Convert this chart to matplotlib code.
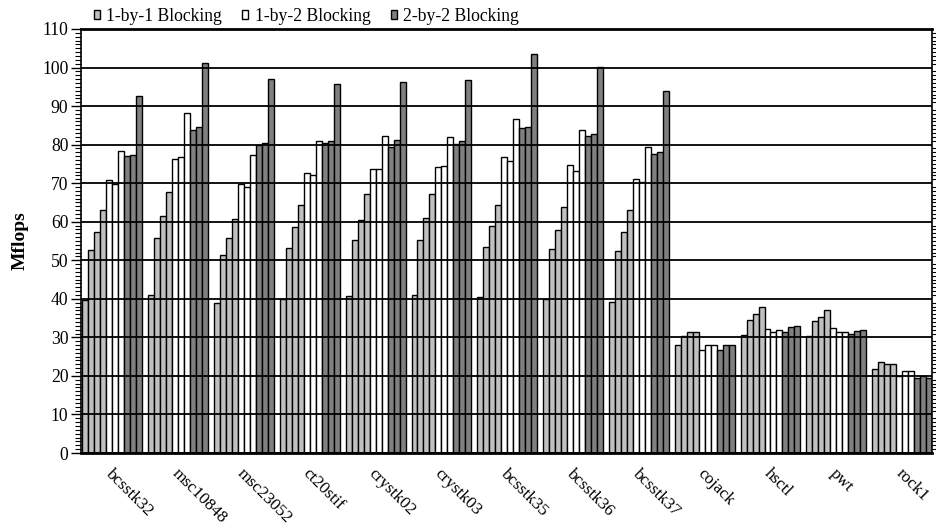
import matplotlib
matplotlib.use('Agg')
import matplotlib.pyplot as plt
from matplotlib.patches import Patch
from matplotlib.ticker import MultipleLocator

plt.rcParams['font.family'] = ['Liberation Serif', 'DejaVu Serif']

matrices = ['bcsstk32', 'msc10848', 'msc23052', 'ct20stif', 'crystk02', 'crystk03',
            'bcsstk35', 'bcsstk36', 'bcsstk37', 'cojack', 'hsctl', 'pwt', 'rock1']

# four light bars per matrix
blk_1x1 = [
    [39.6, 52.7, 57.4, 63.0],
    [40.9, 55.9, 61.5, 67.8],
    [38.8, 51.3, 55.9, 60.6],
    [40.0, 53.3, 58.7, 64.3],
    [40.7, 55.3, 60.5, 67.2],
    [41.0, 55.3, 61.0, 67.2],
    [40.4, 53.5, 58.9, 64.3],
    [39.9, 53.0, 57.8, 63.7],
    [39.3, 52.3, 57.4, 63.0],
    [28.0, 30.3, 31.5, 31.5],
    [30.6, 34.6, 36.0, 37.8],
    [30.3, 34.2, 35.3, 37.0],
    [21.8, 23.7, 23.0, 23.0],
]
blk_1x2 = [
    [70.7, 69.8, 78.3],
    [76.2, 76.7, 88.3],
    [69.9, 68.9, 77.2],
    [72.6, 72.1, 80.9],
    [73.8, 73.8, 82.2],
    [74.3, 74.5, 82.1],
    [76.8, 75.7, 86.7],
    [74.8, 73.2, 83.7],
    [71.2, 70.2, 79.4],
    [26.7, 27.9, 27.9],
    [32.3, 31.3, 32.0],
    [32.5, 31.5, 31.5],
    [19.9, 21.3, 21.3],
]
blk_2x2 = [
    [77.0, 77.4, 92.6],
    [83.7, 84.7, 101.1],
    [79.9, 80.5, 96.9],
    [80.3, 80.9, 95.6],
    [79.4, 81.3, 96.2],
    [80.1, 81.0, 96.8],
    [84.4, 84.7, 103.4],
    [82.2, 82.7, 100.2],
    [77.6, 78.2, 94.0],
    [26.7, 27.9, 27.9],
    [31.3, 32.7, 33.0],
    [31.0, 31.6, 31.9],
    [19.5, 20.1, 19.5],
]

series = [
    ('1-by-1 Blocking', blk_1x1, '#c0c0c0'),
    ('1-by-2 Blocking', blk_1x2, '#ffffff'),
    ('2-by-2 Blocking', blk_2x2, '#808080'),
]

fig = plt.figure(figsize=(9.37, 5.27), dpi=100)
ax = fig.add_axes([0.0864, 0.1404, 0.9083, 0.8046])

slot = 11  # 10 bars + gap per matrix
for g in range(len(matrices)):
    pos = g * slot + 0.25
    for label, values, color in series:
        for v in values[g]:
            ax.bar(pos, v, width=1.0, align='edge', color=color,
                   edgecolor='black', linewidth=1.0)
            pos += 1

ax.set_xlim(0, len(matrices) * slot - 0.75)
ax.set_ylim(0, 110)
ax.yaxis.set_major_locator(MultipleLocator(10))
ax.yaxis.set_minor_locator(MultipleLocator(1))
ax.grid(axis='y', which='major', color='black', linewidth=1.3)

ax.set_xticks([g * slot + 5.5 for g in range(len(matrices))])
ax.set_xticklabels(matrices, rotation=-45, ha='left', va='top',
                   rotation_mode='anchor', fontsize=12.3)
ax.tick_params(axis='x', length=0, pad=9)
ax.tick_params(axis='y', which='major', length=7, width=1, labelsize=12.7,
               direction='out', pad=2)
ax.tick_params(axis='y', which='minor', length=4, width=0.8,
               direction='out', left=True, right=True)

for side in ['top', 'bottom']:
    ax.spines[side].set_linewidth(2)
ax.spines['left'].set_linewidth(1.2)
ax.spines['right'].set_linewidth(1.2)

ax.set_ylabel('Mflops', fontsize=14, fontweight='bold', labelpad=10)

handles = [Patch(facecolor=c, edgecolor='black', linewidth=1.0, label=l)
           for l, _, c in series]
fig.legend(handles=handles, loc='upper left', bbox_to_anchor=(0.083, 1.015),
           ncol=3, frameon=False, fontsize=12.7, handlelength=0.35,
           handleheight=0.35, handletextpad=0.35, columnspacing=1.15)

fig.savefig('out.png', dpi=100)
